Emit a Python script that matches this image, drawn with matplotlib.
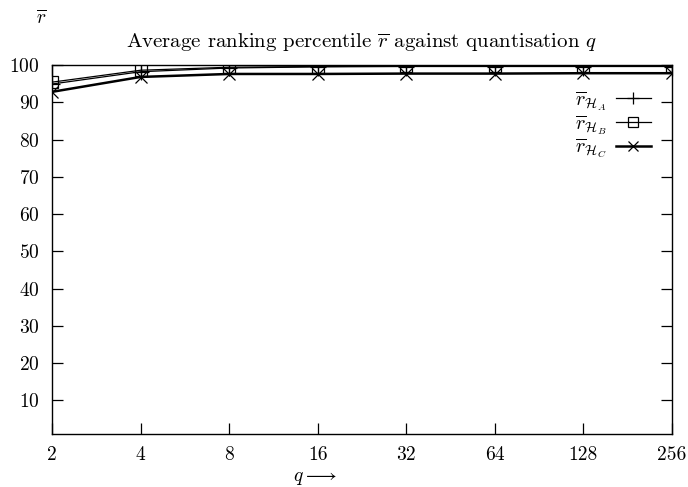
import matplotlib
matplotlib.use("Agg")
import matplotlib.pyplot as plt

plt.rcParams['font.family'] = 'serif'
plt.rcParams['font.serif'] = ['cmr10', 'DejaVu Serif']
plt.rcParams['mathtext.fontset'] = 'cm'
plt.rcParams['axes.formatter.use_mathtext'] = True

# quantisation levels and average ranking percentiles
q_values = [2, 4, 8, 16, 32, 64, 128, 256]
q_labels = ['2', '4', '8', '16', '32', '64', '128', '256']
r_HA = [94.9, 98.2, 99.2, 99.5, 99.6, 99.6, 99.6, 99.6]
r_HB = [95.4, 98.6, 99.4, 99.6, 99.7, 99.7, 99.7, 99.7]
r_HC = [92.8, 96.8, 97.6, 97.6, 97.7, 97.7, 97.8, 97.8]
y_ticks = [10, 20, 30, 40, 50, 60, 70, 80, 90, 100]

fig = plt.figure(figsize=(6.88, 4.87), dpi=100)
ax = fig.add_axes([0.0756, 0.1088, 0.9011, 0.7577])

ax.plot(q_values, r_HA, color='black', lw=0.9, marker='+', markersize=11,
        markeredgewidth=0.9, label=r'$\overline{r}_{\mathcal{H}_A}$')
ax.plot(q_values, r_HB, color='black', lw=0.9, marker='s', markersize=8,
        markerfacecolor='none', markeredgewidth=0.9,
        label=r'$\overline{r}_{\mathcal{H}_B}$')
ax.plot(q_values, r_HC, color='black', lw=1.8, marker='x', markersize=8,
        markeredgewidth=0.9, label=r'$\overline{r}_{\mathcal{H}_C}$')

ax.set_xscale('log', base=2)
ax.set_xlim(2, 256)
ax.set_ylim(1, 100)
ax.set_xticks(q_values)
ax.set_xticklabels(q_labels)
ax.minorticks_off()
ax.set_yticks(y_ticks)

ax.tick_params(direction='in', length=8, width=0.9, labelsize=14, pad=9,
               top=True, right=True)
for s in ax.spines.values():
    s.set_linewidth(1.0)

ax.set_title(r'Average ranking percentile $\overline{r}$ against quantisation $q$',
             fontsize=15, pad=12)
fig.text(315 / 688, 1 - 478 / 487, r'$q \longrightarrow$', fontsize=14,
         ha='center', va='center')
fig.text(41 / 688, 1 - 18 / 487, r'$\overline{r}$', fontsize=14,
         ha='center', va='center')

leg = ax.legend(loc='upper right', bbox_to_anchor=(0.966, 0.935), frameon=False,
                markerfirst=False, fontsize=14.5, handlelength=1.75,
                labelspacing=0.0, borderpad=0, borderaxespad=0,
                handletextpad=0.45, markerscale=0.85)

fig.savefig('out.png', dpi=100)
